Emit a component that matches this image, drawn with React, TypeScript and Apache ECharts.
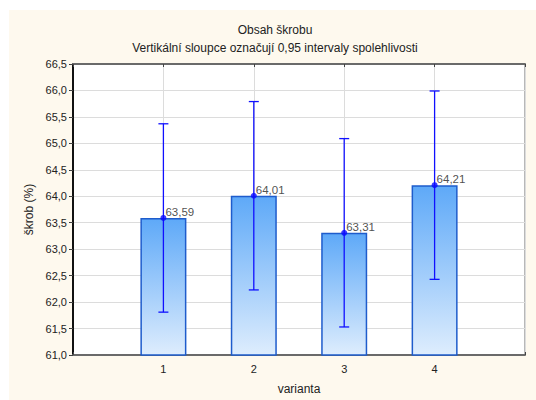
import React, { useEffect, useRef } from "react";
import * as echarts from "echarts";

const categories = [1, 2, 3, 4];
const means = [63.59, 64.01, 63.31, 64.21];
const lower = [61.81, 62.23, 61.53, 62.43];
const upper = [65.37, 65.79, 65.09, 65.99];
const yMin = 61.0;
const yMax = 66.5;
const yStep = 0.5;
const xMin = 0;
const xMax = 5;

const titleText = "Obsah škrobu";
const subTitleText = "Vertikální sloupce označují 0,95 intervaly spolehlivosti";
const yName = "škrob (%)";
const xName = "varianta";

const FONT = "'Liberation Sans', Arial, sans-serif";
const comma = (v: number, d: number) => v.toFixed(d).replace(".", ",");

export default function App() {
  const ref = useRef<HTMLDivElement>(null);
  useEffect(() => {
    if (!ref.current) return;
    const chart = echarts.init(ref.current, undefined, { renderer: "svg" });
    const errData = categories.map((c, i) => [c, lower[i], upper[i]]);
    const option: any = {
      animation: false,
      backgroundColor: "#ffffff",
      textStyle: { fontFamily: FONT },
      graphic: [
        {
          type: "rect",
          z: -10,
          silent: true,
          shape: { x: 9, y: 10, width: 527, height: 390 },
          style: { fill: "#fef9ee" },
        },
      ],
      title: [
        {
          text: titleText,
          left: 270,
          top: 19,
          textAlign: "center",
          textStyle: { fontSize: 12, fontWeight: "normal", color: "#222", fontFamily: FONT },
        },
        {
          text: subTitleText,
          left: 270,
          top: 37,
          textAlign: "center",
          textStyle: { fontSize: 12, fontWeight: "normal", color: "#222", fontFamily: FONT },
        },
      ],
      grid: {
        left: 73,
        right: 11,
        top: 64,
        bottom: 41,
        show: true,
        backgroundColor: "#ffffff",
        borderColor: "#707070",
        borderWidth: 1,
      },
      xAxis: [
        {
          type: "value",
          position: "bottom",
          min: xMin,
          max: xMax,
          interval: 1,
          name: xName,
          nameLocation: "middle",
          nameGap: 28,
          nameTextStyle: { fontSize: 12, color: "#222", fontFamily: FONT },
          axisLine: { show: true, lineStyle: { color: "#6a6a6a", width: 2 } },
          axisTick: { show: true, inside: true, length: 3, lineStyle: { color: "#444" } },
          axisLabel: {
            fontSize: 11,
            color: "#222",
            margin: 8,
            formatter: (v: number) => (categories.includes(v) ? String(v) : ""),
          },
          splitLine: { show: true, lineStyle: { color: "#dcdcdc", width: 1 } },
        },
        {
          type: "value",
          position: "top",
          min: xMin,
          max: xMax,
          interval: 1,
          axisLine: { show: true, lineStyle: { color: "#6a6a6a", width: 2 } },
          axisTick: { show: true, inside: true, length: 3, lineStyle: { color: "#444" } },
          axisLabel: { show: false },
          splitLine: { show: false },
        },
      ],
      yAxis: [
        {
          type: "value",
          position: "left",
          min: yMin,
          max: yMax,
          interval: yStep,
          name: yName,
          nameLocation: "middle",
          nameGap: 38,
          nameRotate: 90,
          nameTextStyle: { fontSize: 12, color: "#222", fontFamily: FONT },
          axisLine: { show: true, lineStyle: { color: "#333", width: 1 } },
          axisTick: { show: true, inside: false, length: 4, lineStyle: { color: "#333" } },
          axisLabel: {
            fontSize: 11,
            color: "#222",
            margin: 6,
            formatter: (v: number) => comma(v, 1),
          },
          splitLine: { show: true, lineStyle: { color: "#dcdcdc", width: 1 } },
        },
        {
          type: "value",
          position: "right",
          min: yMin,
          max: yMax,
          interval: yStep,
          axisLine: { show: true, lineStyle: { color: "#111", width: 2 } },
          axisTick: { show: true, inside: true, length: 3, lineStyle: { color: "#444" } },
          axisLabel: { show: false },
          splitLine: { show: false },
        },
      ],
      series: [
        {
          type: "bar",
          xAxisIndex: 0,
          yAxisIndex: 0,
          barWidth: 46,
          data: categories.map((c, i) => [c, means[i]]),
          itemStyle: {
            color: new echarts.graphic.LinearGradient(0, 0, 0, 1, [
              { offset: 0, color: "#5ea9f8" },
              { offset: 1, color: "#deedfd" },
            ]),
            borderColor: "#1e5ccc",
            borderWidth: 1.5,
          },
          z: 2,
        },
        {
          type: "custom",
          xAxisIndex: 0,
          yAxisIndex: 0,
          data: errData,
          z: 3,
          renderItem: (params: any, api: any) => {
            const x = api.value(0);
            const lo = api.coord([x, api.value(1)]);
            const hi = api.coord([x, api.value(2)]);
            const cap = 5;
            const style = { stroke: "#1010ff", lineWidth: 1.3 };
            return {
              type: "group",
              children: [
                { type: "line", shape: { x1: lo[0], y1: lo[1], x2: hi[0], y2: hi[1] }, style },
                { type: "line", shape: { x1: hi[0] - cap, y1: hi[1], x2: hi[0] + cap, y2: hi[1] }, style },
                { type: "line", shape: { x1: lo[0] - cap, y1: lo[1], x2: lo[0] + cap, y2: lo[1] }, style },
              ],
            };
          },
        },
        {
          type: "scatter",
          xAxisIndex: 0,
          yAxisIndex: 0,
          symbol: "circle",
          symbolSize: 6,
          data: categories.map((c, i) => [c, means[i]]),
          itemStyle: { color: "#0a0aff" },
          z: 4,
          label: {
            show: true,
            position: "right",
            distance: 0,
            offset: [-1, -6],
            fontSize: 11.5,
            color: "#222",
            fontFamily: FONT,
            formatter: (p: any) => comma(p.value[1], 2),
          },
        },
      ],
    };
    chart.setOption(option);
    return () => chart.dispose();
  }, []);
  return (
    <div
      ref={ref}
      style={{ position: "fixed", left: 0, top: 0, width: 536, height: 400 }}
    />
  );
}
